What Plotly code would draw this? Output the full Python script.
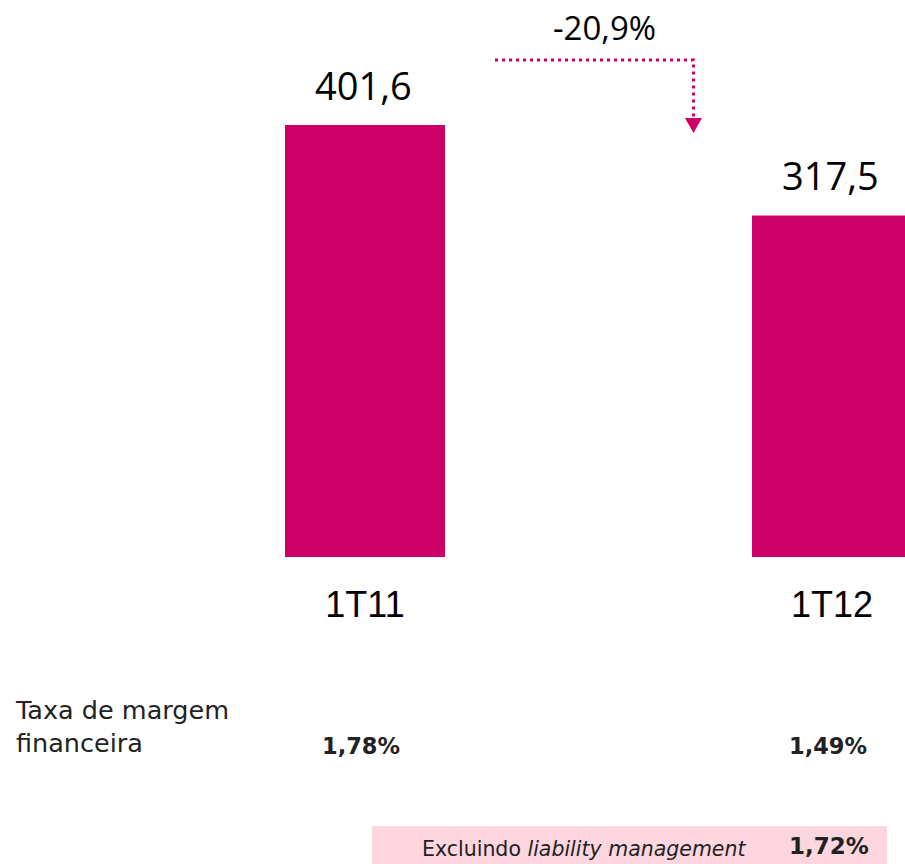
import plotly.graph_objects as go

# ---- data ----
categories = ["1T11", "1T12"]
values = [401.6, 317.5]
value_labels = ["401,6", "317,5"]
change_label = "-20,9%"
margin_label = "Taxa de margem<br>financeira"
margin_rates = ["1,78%", "1,49%"]
excl_label = "Excluindo <i>liability management</i>"
excl_rate = "1,72%"

BAR = "#CC0066"
W, H = 905, 864
px_per_unit = 432 / 401.6
base_px = 557
xpos = list(range(len(categories)))
x_unit = 467.0
x0_px = 365.0

def ydata(px):
    return (base_px - px) / px_per_unit

def xdata(px):
    return (px - x0_px) / x_unit

fig = go.Figure()
fig.add_trace(go.Bar(x=xpos, y=values, width=160 / x_unit, marker_color=BAR,
                     marker_line_width=0, hoverinfo="skip"))

# dotted connector arrow
hy = ydata(60)
fig.add_trace(go.Scatter(x=[xdata(495), xdata(693.5), xdata(693.5)],
                         y=[hy, hy, ydata(120)], mode="lines",
                         line=dict(color=BAR, width=3, dash="3px,4px"),
                         hoverinfo="skip"))
fig.add_trace(go.Scatter(x=[xdata(685), xdata(702), xdata(693.5), xdata(685)],
                         y=[ydata(118), ydata(118), ydata(133), ydata(118)],
                         mode="lines", fill="toself", fillcolor=BAR,
                         line=dict(color=BAR, width=0), hoverinfo="skip"))

annotations = []
for i, (v, lab) in enumerate(zip(values, value_labels)):
    annotations.append(dict(x=i, y=v, xref="x", yref="y", text=lab, showarrow=False,
                            yanchor="bottom", yshift=12, xshift=-2,
                            font=dict(family="Open Sans", size=38, color="#000000")))
annotations.append(dict(x=xdata(604), y=ydata(43), xref="x", yref="y", text=change_label,
                        showarrow=False, yanchor="bottom", yshift=-9,
                        font=dict(family="Open Sans", size=33, color="#000000")))

annotations.append(dict(x=13 / W, y=1 - 726 / H, xref="paper", yref="paper",
                        text=margin_label, showarrow=False, xanchor="left", yanchor="middle",
                        align="left",
                        font=dict(family="DejaVu Sans", size=25.5, color="#222222")))
for i, r in enumerate(margin_rates):
    annotations.append(dict(x=i, y=1 - 746 / H, xref="x", yref="paper", text="<b>" + r + "</b>",
                            showarrow=False, xshift=-4, yanchor="middle",
                            font=dict(family="DejaVu Sans", size=22.5, color="#222222")))

annotations.append(dict(x=748 / W, y=1 - 849 / H, xref="paper", yref="paper", text=excl_label,
                        showarrow=False, xanchor="right", yanchor="middle",
                        font=dict(family="DejaVu Sans", size=20.5, color="#222222")))
annotations.append(dict(x=1, y=1 - 846 / H, xref="x", yref="paper", text="<b>" + excl_rate + "</b>",
                        showarrow=False, xshift=-3, yanchor="middle",
                        font=dict(family="DejaVu Sans", size=23, color="#222222")))

fig.update_layout(
    width=W, height=H, margin=dict(l=0, r=0, t=0, b=0),
    paper_bgcolor="white", plot_bgcolor="white", showlegend=False,
    xaxis=dict(range=[xdata(0), xdata(W)], tickvals=xpos, ticktext=categories,
               showgrid=False, zeroline=False, showline=False,
               ticks="outside", ticklen=16, tickcolor="rgba(0,0,0,0)",
               tickfont=dict(family="Liberation Sans", size=36, color="#000000")),
    yaxis=dict(domain=[1 - base_px / H, 1], range=[0, base_px / px_per_unit],
               visible=False),
    shapes=[dict(type="rect", xref="paper", yref="paper", x0=372 / W, x1=887 / W,
                 y0=-0.01, y1=1 - 826 / H, fillcolor="#FDD6DF", line_width=0, layer="below")],
    annotations=annotations,
)
fig.write_html("out.html", config={"displayModeBar": False},
               post_script="document.body.style.margin='0';document.body.style.overflow='hidden';")
